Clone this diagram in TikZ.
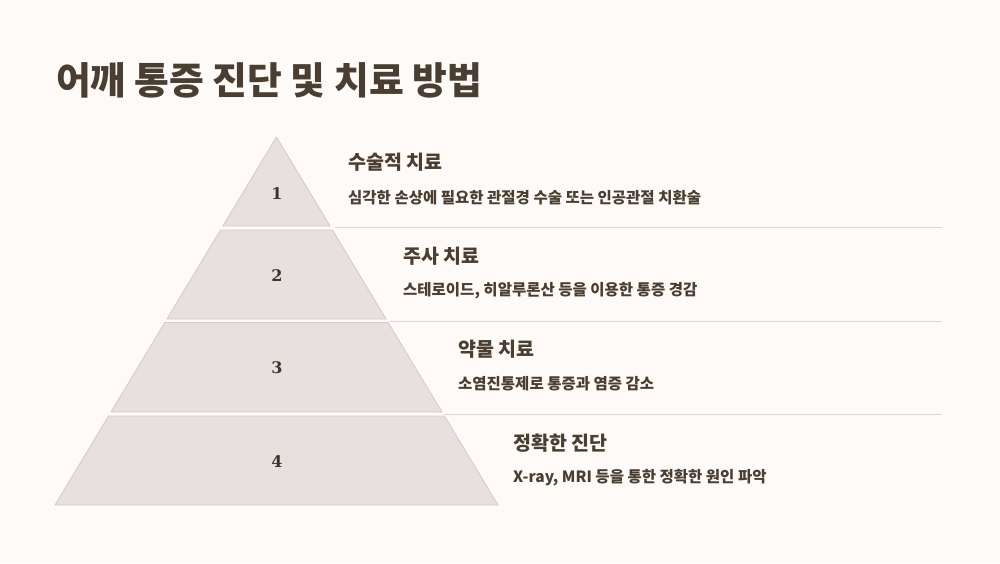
\documentclass[tikz,border=0pt]{standalone}
\usepackage{fontspec}
\newfontfamily\kr{Noto Sans CJK KR}
\newfontfamily\numfont{DejaVu Serif}
\definecolor{bg}{HTML}{FDFAF7}
\definecolor{ink}{HTML}{4A3E32}
\definecolor{numink}{HTML}{3E3428}
\definecolor{tierfill}{HTML}{E8E0DF}
\definecolor{tieredge}{HTML}{D3C9C7}
\definecolor{sep}{HTML}{DCD6D1}
\tikzset{
  tierbox/.style={fill=tierfill, draw=tieredge, line width=0.8pt, line join=round},
  numlabel/.style={font=\numfont\bfseries\fontsize{16}{20}\selectfont, text=numink},
  headlabel/.style={anchor=west, inner sep=0pt, font=\kr\bfseries\fontsize{19.5}{22}\selectfont, text=ink},
  desclabel/.style={anchor=west, inner sep=0pt, font=\kr\bfseries\fontsize{15.5}{18}\selectfont, text=ink},
  sepline/.style={draw=sep, line width=0.9pt}
}
\newcommand\tierpoly[2]{%
  \path[tierbox] ({276.5-0.6019*(#1-137)},#1) -- ({276.5+0.6019*(#1-137)},#1)
    -- ({276.5+0.6019*(#2-137)},#2) -- ({276.5-0.6019*(#2-137)},#2) -- cycle;}
\begin{document}
\begin{tikzpicture}[x=1pt,y=-1pt]
\fill[bg] (0,0) rectangle (1000,563);
\useasboundingbox (0,0) rectangle (1000,563);
\node[anchor=west, inner sep=0pt, font=\kr\bfseries\fontsize{37.8}{42}\selectfont, text=ink] (title) at (56,80) {어깨 통증 진단 및 치료 방법};
% tiers
\path[tierbox] (276.5,137) -- ({276.5+0.6019*89},226) -- ({276.5-0.6019*89},226) -- cycle;
\tierpoly{230}{319}
\tierpoly{322.5}{412}
\tierpoly{416}{505}
\node[numlabel] (n1) at (277,193.5) {1};
\node[numlabel] (n2) at (277,276) {2};
\node[numlabel] (n3) at (277,368) {3};
\node[numlabel] (n4) at (277,462) {4};
% separators
\draw[sepline] (335,227.5) -- (942,227.5);
\draw[sepline] (390,321) -- (942,321);
\draw[sepline] (444,414) -- (942,414);
% texts
\node[headlabel] (h1) at (348,162) {수술적 치료};
\node[desclabel] (d1) at (348,198) {심각한 손상에 필요한 관절경 수술 또는 인공관절 치환술};
\node[headlabel] (h2) at (403,256) {주사 치료};
\node[desclabel] (d2) at (403,291) {스테로이드, 히알루론산 등을 이용한 통증 경감};
\node[headlabel] (h3) at (458,349) {약물 치료};
\node[desclabel] (d3) at (458,384) {소염진통제로 통증과 염증 감소};
\node[headlabel] (h4) at (513,443) {정확한 진단};
\node[desclabel] (d4) at (513,478) {X-ray, MRI 등을 통한 정확한 원인 파악};
\end{tikzpicture}
\end{document}
